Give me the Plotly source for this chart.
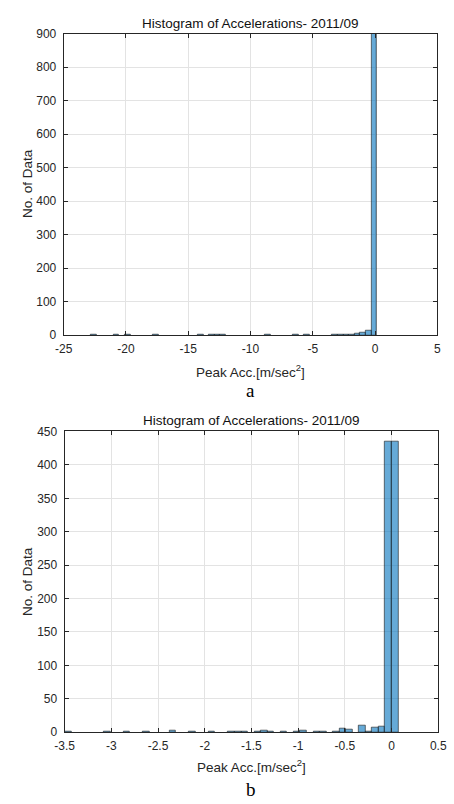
import plotly.graph_objects as go

# ---- data: monthly peak-acceleration histograms ----
title_text = "Histogram of Accelerations- 2011/09"
x_title = "Peak Acc.[m/sec<sup>2</sup>]"
y_title = "No. of Data"

# (a) full range, bin width 0.45 starting at -22.8
a_first_edge = -22.8
a_bin_width = 0.45
a_counts = [1, 0, 0, 0, 2, 0, 1, 0, 0, 0,
            0, 1, 0, 0, 0, 0, 0, 0, 0, 1,
            0, 1, 2, 1, 0, 0, 0, 0, 0, 0,
            0, 1, 0, 0, 0, 0, 1, 0, 1, 0,
            0, 0, 0, 1, 2, 2, 3, 5, 8, 15,
            900]
a_xticks = [-25, -20, -15, -10, -5, 0, 5]
a_xticklabels = ["-25", "-20", "-15", "-10", "-5", "0", "5"]
a_yticks = [0, 100, 200, 300, 400, 500, 600, 700, 800, 900]

# (b) zoom near zero, bin width 0.07 starting at -3.5
b_first_edge = -3.5
b_bin_width = 0.07
b_counts = [1, 0, 0, 0, 0, 0, 1, 0, 0, 1,
            0, 0, 1, 0, 0, 0, 2, 0, 0, 1,
            0, 0, 1, 0, 0, 1, 1, 1, 0, 1,
            2, 1, 0, 1, 0, 1, 3, 0, 1, 1,
            0, 1, 6, 4, 0, 10, 1, 7, 9, 435,
            435]
b_xticks = [-3.5, -3, -2.5, -2, -1.5, -1, -0.5, 0, 0.5]
b_xticklabels = ["-3.5", "-3", "-2.5", "-2", "-1.5", "-1", "-0.5", "0", "0.5"]
b_yticks = [0, 50, 100, 150, 200, 250, 300, 350, 400, 450]

W, H = 454, 804
FONT = "Liberation Sans, Arial, sans-serif"
TXT = "#262626"
BAR_FILL = "rgba(0,114,189,0.6)"


def nonzero_bins(first_edge, width, counts):
    xs, ys = [], []
    for i, c in enumerate(counts):
        if c > 0:
            xs.append(first_edge + width * (i + 0.5))
            ys.append(c)
    return xs, ys


fig = go.Figure()

for (first, width, counts, xa, ya) in [
        (a_first_edge, a_bin_width, a_counts, "x", "y"),
        (b_first_edge, b_bin_width, b_counts, "x2", "y2")]:
    bx, by = nonzero_bins(first, width, counts)
    fig.add_trace(go.Bar(
        x=bx, y=by, width=width, xaxis=xa, yaxis=ya,
        marker=dict(color=BAR_FILL, line=dict(color="#1a1a1a", width=0.6)),
        showlegend=False, hoverinfo="x+y"))


def px_x(p):
    return p / W


def px_y(p):
    return 1 - p / H


axis_common = dict(
    showline=True, linecolor=TXT, linewidth=1, mirror="allticks",
    ticks="inside", ticklen=4, tickwidth=1, tickcolor=TXT,
    showgrid=True, gridcolor="#e3e3e3", gridwidth=1, zeroline=False,
    tickfont=dict(family=FONT, size=12, color=TXT),
)

fig.update_layout(
    width=W, height=H, margin=dict(l=0, r=0, t=0, b=0),
    paper_bgcolor="white", plot_bgcolor="white", bargap=0,
    xaxis=dict(domain=[px_x(56), px_x(446)], range=[-25, 5], anchor="y",
               tickvals=a_xticks, ticktext=a_xticklabels, ticklabelstandoff=2,
               **axis_common),
    yaxis=dict(domain=[px_y(334), px_y(27)], range=[0, 900], anchor="x",
               tickvals=a_yticks, ticklabelstandoff=4, **axis_common),
    xaxis2=dict(domain=[px_x(57), px_x(447)], range=[-3.5, 0.5], anchor="y2",
                tickvals=b_xticks, ticktext=b_xticklabels, ticklabelstandoff=2,
                **axis_common),
    yaxis2=dict(domain=[px_y(738), px_y(432)], range=[0, 450], anchor="x2",
                tickvals=b_yticks, ticklabelstandoff=4, **axis_common),
)

notes = []
for (cx, ty, xy, yy, tag, tagy) in [
        (251, 17, 370, 180, "a", 390),
        (252, 421, 772, 585, "b", 796)]:
    notes.append(dict(text=title_text, x=px_x(cx), y=px_y(ty), xref="paper", yref="paper",
                      showarrow=False, xanchor="center", yanchor="middle",
                      font=dict(family=FONT, size=13.5, color="#111111")))
    notes.append(dict(text=x_title, x=px_x(cx), y=px_y(xy), xref="paper", yref="paper",
                      showarrow=False, xanchor="center", yanchor="middle",
                      font=dict(family=FONT, size=13.5, color=TXT)))
    notes.append(dict(text=y_title, x=px_x(19), y=px_y(yy), xref="paper", yref="paper",
                      showarrow=False, xanchor="center", yanchor="middle", textangle=-90,
                      font=dict(family=FONT, size=13.5, color=TXT)))
    notes.append(dict(text=tag, x=px_x(cx), y=px_y(tagy), xref="paper", yref="paper",
                      showarrow=False, xanchor="center", yanchor="middle",
                      font=dict(family="Liberation Serif, Times New Roman, serif",
                                size=19, color="black")))
fig.update_layout(annotations=notes)

fig.write_html("out.html")
